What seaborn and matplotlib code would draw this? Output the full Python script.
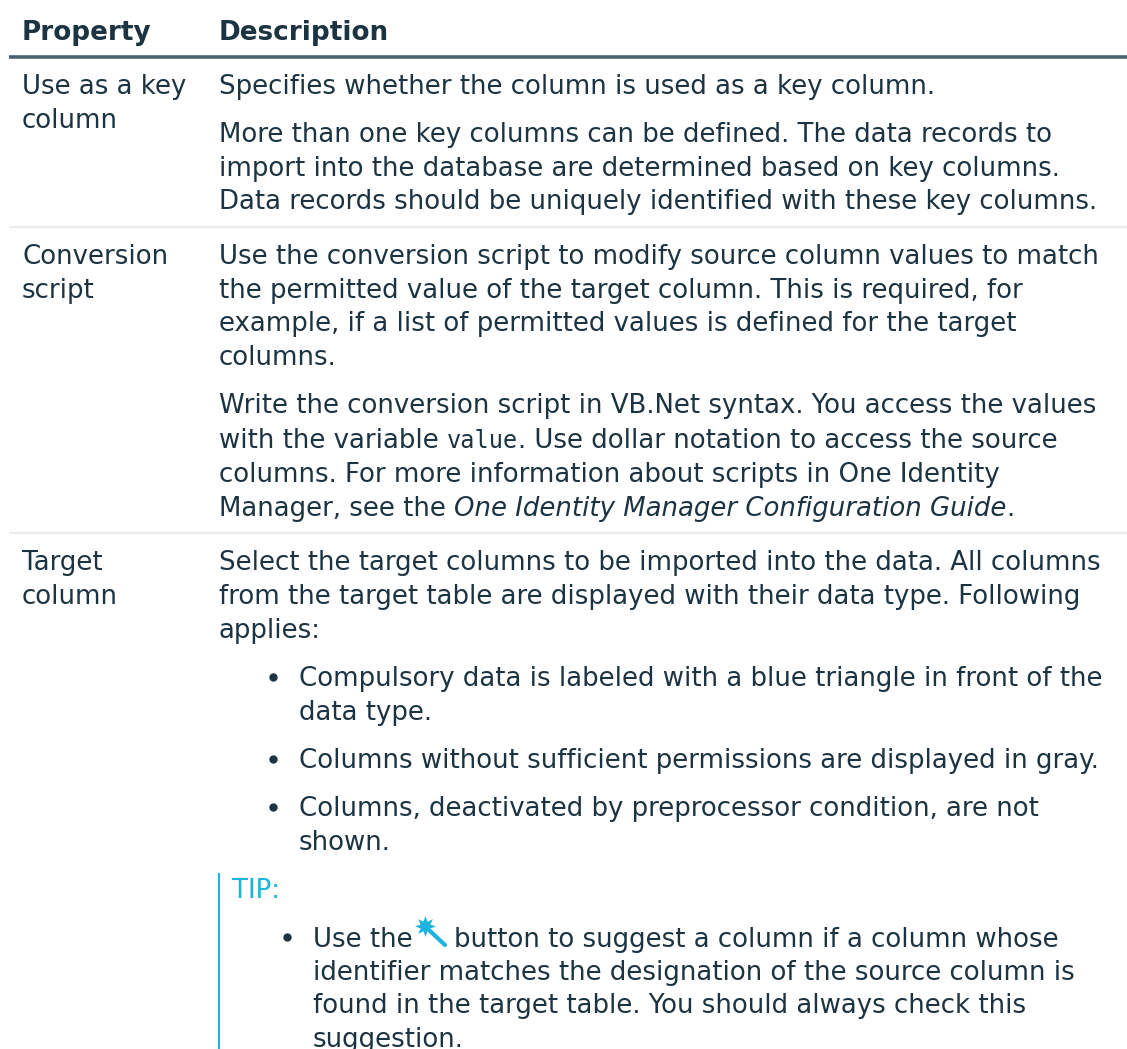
import matplotlib
matplotlib.use('Agg')
import matplotlib.pyplot as plt
import seaborn as sns

# table text
headers = ['Property', 'Description']
properties = [('Use as a key', 94), ('column', 128), ('Conversion', 264), ('script', 298), ('Target', 570), ('column', 604)]

# each line: x, baseline, list of (text, style)
body = [
    (219, 94, [('Specifies whether the column is used as a key column.', 'n')]),
    (219, 142, [('More than one key columns can be defined. The data records to', 'n')]),
    (219, 176, [('import into the database are determined based on key columns.', 'n')]),
    (219, 209, [('Data records should be uniquely identified with these key columns.', 'n')]),
    (219, 264, [('Use the conversion script to modify source column values to match', 'n')]),
    (219, 298, [('the permitted value of the target column. This is required, for', 'n')]),
    (219, 331, [('example, if a list of permitted values is defined for the target', 'n')]),
    (219, 365, [('columns.', 'n')]),
    (219, 413, [('Write the conversion script in VB.Net syntax. You access the values', 'n')]),
    (219, 448, [('with the variable ', 'n'), ('value', 'm'), ('. Use dollar notation to access the source', 'n')]),
    (219, 482, [('columns. For more information about scripts in One Identity', 'n')]),
    (219, 516, [('Manager, see the ', 'n'), ('One Identity Manager Configuration Guide', 'i'), ('.', 'n')]),
    (219, 570, [('Select the target columns to be imported into the data. All columns', 'n')]),
    (219, 604, [('from the target table are displayed with their data type. Following', 'n')]),
    (219, 638, [('applies:', 'n')]),
    (299, 686, [('Compulsory data is labeled with a blue triangle in front of the', 'n')]),
    (299, 720, [('data type.', 'n')]),
    (299, 768, [('Columns without sufficient permissions are displayed in gray.', 'n')]),
    (299, 816, [('Columns, deactivated by preprocessor condition, are not', 'n')]),
    (299, 850, [('shown.', 'n')]),
    (313, 947, [('Use the', 'n')]),
    (454, 947, [('button to suggest a column if a column whose', 'n')]),
    (313, 980, [('identifier matches the designation of the source column is', 'n')]),
    (313, 1013, [('found in the target table. You should always check this', 'n')]),
    (313, 1047, [('suggestion.', 'n')]),
]
bullets = [(273, 677), (273, 759), (273, 807), (287, 937)]

INK = '#1c3342'
RULE = '#4b626e'
LIGHT = '#ececec'
BLUE = '#1fb4e0'
FS = 18.75
FS_BOLD = 18.9

sns.set_theme(style='white', rc={'font.family': 'DejaVu Sans'})
fig, ax = plt.subplots(figsize=(11.27, 10.49), dpi=100)
ax.set_position([0, 0, 1, 1])
ax.set_xlim(0, 1127)
ax.set_ylim(1049, 0)
ax.axis('off')


def advance(s, **kw):
    # width incl trailing spaces: measure with a sentinel
    r = fig.canvas.get_renderer()
    a = ax.text(0, 0, s + '|', **kw)
    b = ax.text(0, 0, '|', **kw)
    w = a.get_window_extent(r).width - b.get_window_extent(r).width
    a.remove()
    b.remove()
    return w


styles = {'n': {}, 'i': {'style': 'italic'}, 'm': {'family': 'DejaVu Sans Mono', 'fontsize': 17}}

ax.text(22, 40, headers[0], fontsize=FS_BOLD, weight='bold', color=INK)
ax.text(219, 40, headers[1], fontsize=FS_BOLD, weight='bold', color=INK)
for s, y in properties:
    ax.text(22, y, s, fontsize=FS, color=INK)
for x, y, runs in body:
    for s, st in runs:
        kw = {'fontsize': FS, **styles[st]}
        ax.text(x, y, s, color=INK, clip_on=True, **kw)
        x += advance(s, **kw)

ax.hlines(57, 9, 1127, color=RULE, lw=2.6)
ax.hlines([227, 533], 9, 1127, color=LIGHT, lw=1.6)
ax.vlines(219, 873, 1049, color=BLUE, lw=1.5)
ax.text(232, 898, 'TIP:', fontsize=FS, color=BLUE)
for x, y in bullets:
    ax.plot(x, y, 'o', ms=6, mew=0, color=INK)

# wand icon
ax.plot([430, 445], [931, 945], color=BLUE, lw=3, solid_capstyle='round')
ax.plot(425, 926, marker=(8, 1, 0), ms=15, mew=0, color=BLUE)

fig.savefig('out.png', dpi=100)
